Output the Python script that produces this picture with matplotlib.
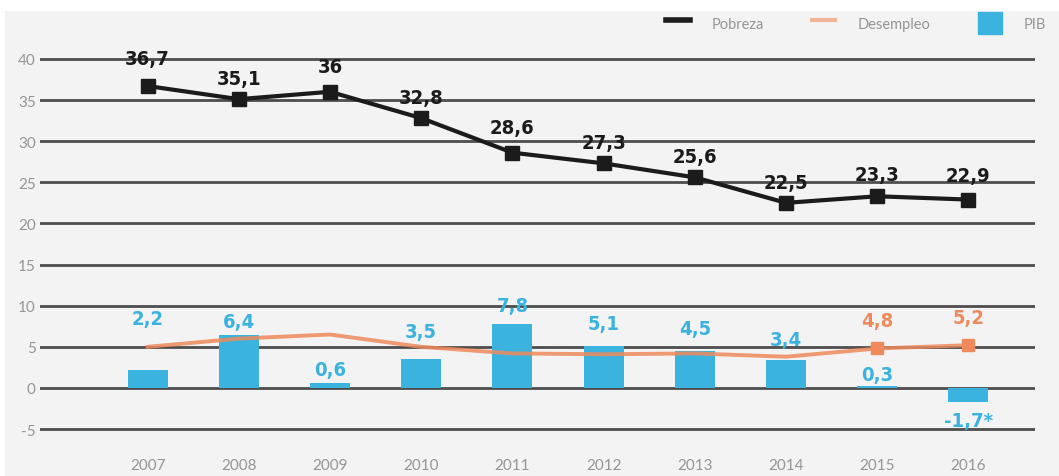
import matplotlib.pyplot as plt
from matplotlib.lines import Line2D
from matplotlib.patches import Patch, Rectangle

plt.rcParams['axes.unicode_minus'] = False

years = [2007, 2008, 2009, 2010, 2011, 2012, 2013, 2014, 2015, 2016]
pobreza = [36.7, 35.1, 36.0, 32.8, 28.6, 27.3, 25.6, 22.5, 23.3, 22.9]
desempleo = [5.0, 6.0, 6.5, 5.0, 4.2, 4.1, 4.2, 3.8, 4.8, 5.2]
pib = [2.2, 6.4, 0.6, 3.5, 7.8, 5.1, 4.5, 3.4, 0.3, -1.7]
pib_labels = ['2,2', '6,4', '0,6', '3,5', '7,8', '5,1', '4,5', '3,4', '0,3', '-1,7*']
pobreza_labels = ['36,7', '35,1', '36', '32,8', '28,6', '27,3', '25,6', '22,5', '23,3', '22,9']
desempleo_labels = {8: '4,8', 9: '5,2'}

# vertical label offsets (points) so the numbers clear the lines
pib_off = [37, 10, 10, 20, 13, 16, 16, 15, 8, -13]
pob_off = [20, 15, 18, 15, 18, 15, 15, 15, 16, 17]

BLACK = '#1b1b1b'
ORANGE = '#ee8a5c'
CYAN = '#3ab3de'
GRID = '#4d4d4d'
BG = '#f3f3f3'
TICK = '#959595'

label_font = dict(family='DejaVu Sans', stretch='condensed', fontweight='bold', fontsize=14.5)
tick_font = ['Lato', 'DejaVu Sans']

fig = plt.figure(figsize=(10.59, 4.77), dpi=100, facecolor='white')
fig.patches.append(Rectangle((5 / 1059, 0), 1, 465 / 477, transform=fig.transFigure,
                             facecolor=BG, edgecolor='none', zorder=-10))

ax = fig.add_axes([40 / 1059, 37 / 477, 995 / 1059, 390 / 477])
ax.set_facecolor('none')
x = list(range(len(years)))

for v in range(-5, 41, 5):
    ax.axhline(v, color=GRID, lw=2, zorder=1)

ax.bar(x, pib, width=0.44, color=CYAN, zorder=2)
ax.plot(x, desempleo, color=ORANGE, lw=2.8, alpha=0.85, zorder=3)
ax.plot(x[8:], desempleo[8:], 's', color=ORANGE, ms=9, zorder=4)
ax.plot(x, pobreza, color=BLACK, lw=3, marker='s', ms=10, zorder=5)

for i in x:
    ax.annotate(pobreza_labels[i], (i, pobreza[i]), xytext=(0, pob_off[i]),
                textcoords='offset points', ha='center', va='center',
                color=BLACK, **label_font)
    ax.annotate(pib_labels[i], (i, max(pib[i], 0) if pib[i] >= 0 else pib[i]),
                xytext=(0, pib_off[i]), textcoords='offset points',
                ha='center', va='center', color=CYAN, **label_font)
for i, t in desempleo_labels.items():
    ax.annotate(t, (i, desempleo[i]), xytext=(0, 20), textcoords='offset points',
                ha='center', va='center', color=ORANGE, **label_font)

ax.set_xlim(-1.18, 9.73)
ax.set_ylim(-6.2, 41.2)
ax.set_xticks(x)
ax.set_xticklabels([str(y) for y in years])
ax.set_yticks(range(-5, 41, 5))
ax.tick_params(length=0, colors=TICK, labelsize=11)
ax.tick_params(axis='y', pad=3)
ax.tick_params(axis='x', pad=14)
for lab in ax.get_xticklabels() + ax.get_yticklabels():
    lab.set_family(tick_font)
for s in ax.spines.values():
    s.set_visible(False)

handles = [Line2D([], [], color=BLACK, lw=4),
           Line2D([], [], color=ORANGE, lw=3, alpha=0.6),
           Patch(color=CYAN)]
leg = fig.legend(handles, ['Pobreza', 'Desempleo', 'PIB'], ncol=3, frameon=False,
                 loc='center right', bbox_to_anchor=(1.0, 1 - 24 / 477),
                 handlelength=1.6, handleheight=1.9, handletextpad=1.5,
                 columnspacing=3.3, prop={'family': tick_font, 'size': 10.5})
for t in leg.get_texts():
    t.set_color(TICK)

fig.savefig('out.png', dpi=100, facecolor=fig.get_facecolor())
